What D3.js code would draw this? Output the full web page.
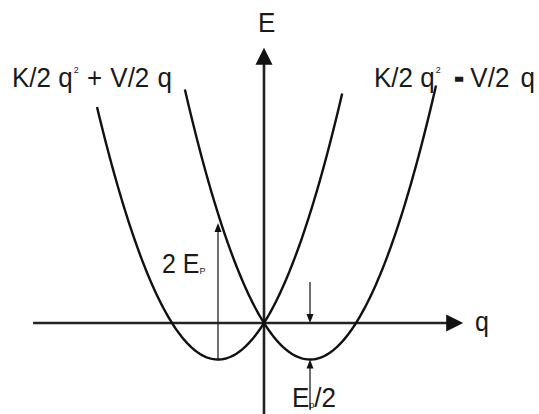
<!DOCTYPE html>
<html><head><meta charset="utf-8">
<script src="https://cdn.jsdelivr.net/npm/d3@7"></script>
<style>
body{margin:0;background:#fff}
svg{display:block}
text{font-family:"Liberation Sans",Arial,sans-serif;fill:#1a1a1a}
</style>
</head><body>
<svg id="c" width="539" height="414"></svg>
<script>
// E(q) = K/2 q^2 + s * V/2 q   (arbitrary units, minima at -Ep/2)
const K = 1, V = 2;
const signs = [1, -1];
const seriesLabels = ["+", "-"];
const qRanges = [[-3.63, 1.70], [-1.72, 3.74]];
const qAxisExtent = [-5.02, 4.33];
const eAxisExtent = [-1.25, 3.77];
// annotation arrows: q position, start E, end (tip) E
const arrowQ = [-1, 1, 1];
const arrowFrom = [-0.5, 0.56, -1.19];
const arrowTo = [1.37, 0, -0.5];

const svg = d3.select("#c");
const x = d3.scaleLinear().domain([0, 1]).range([264, 310]);
const y = d3.scaleLinear().domain([0, 1]).range([323, 250]);

function head(g, x1, y1, x2, y2, len, hw) {
  const dx = x2 - x1, dy = y2 - y1, L = Math.hypot(dx, dy);
  const ux = dx / L, uy = dy / L;
  const bx = x2 - ux * len, by = y2 - uy * len;
  g.append("path")
    .attr("d", `M${x2},${y2}L${bx - uy * hw},${by + ux * hw}L${bx + uy * hw},${by - ux * hw}Z`)
    .attr("fill", "#111");
}

// axes
const ax = svg.append("g");
ax.append("line")
  .attr("x1", x(qAxisExtent[0])).attr("x2", x(qAxisExtent[1]) - 10)
  .attr("y1", y(0)).attr("y2", y(0))
  .attr("stroke", "#222").attr("stroke-width", 2.6);
head(ax, x(qAxisExtent[0]), y(0), x(qAxisExtent[1]), y(0), 17, 8.5);
ax.append("line")
  .attr("x1", x(0)).attr("x2", x(0))
  .attr("y1", y(eAxisExtent[0])).attr("y2", y(eAxisExtent[1]) + 10)
  .attr("stroke", "#222").attr("stroke-width", 2.6);
head(ax, x(0), y(eAxisExtent[0]), x(0), y(eAxisExtent[1]), 17, 8.5);

// curves
const line = d3.line().x(d => x(d[0])).y(d => y(d[1]));
signs.forEach((s, i) => {
  const [a, b] = qRanges[i];
  const pts = d3.range(0, 201).map(k => {
    const q = a + (b - a) * k / 200;
    return [q, K / 2 * q * q + s * V / 2 * q];
  });
  svg.append("path").attr("d", line(pts))
    .attr("fill", "none").attr("stroke", "#111").attr("stroke-width", 2.4);
});

// annotation arrows
arrowQ.forEach((q, i) => {
  const x1 = x(q), y1 = y(arrowFrom[i]), y2 = y(arrowTo[i]);
  svg.append("line").attr("x1", x1).attr("x2", x1).attr("y1", y1)
    .attr("y2", y2 + (y2 < y1 ? 5 : -5))
    .attr("stroke", "#222").attr("stroke-width", 1.3);
  head(svg, x1, y1, x1, y2, 9, 3.5);
});

// labels (slightly tall type, as in the reference)
function label(xp, yp, size) {
  return svg.append("g").attr("transform", `translate(${xp},${yp}) scale(1,1.08)`)
    .append("text").attr("font-size", size);
}
label(258, 32, 26).text("E");
label(475, 331, 25).text("q");

function curveLabel(xp, sign) {
  const t = label(xp, 87, 26);
  t.append("tspan").text("K/2 q");
  t.append("tspan").attr("font-size", 9).attr("dx", 1).attr("dy", -13).text("2");
  if (sign === "+") {
    t.append("tspan").attr("dy", 13).attr("word-spacing", 1).text(" + V/2 q");
  } else {
    t.append("tspan").attr("dy", 13).attr("dx", 14).attr("font-weight", "bold")
      .attr("stroke", "#1a1a1a").attr("stroke-width", 1.6).text("-");
    t.append("tspan").attr("dx", 7).attr("word-spacing", 4).text("V/2 q");
  }
}
curveLabel(12, seriesLabels[0]);
curveLabel(374, seriesLabels[1]);

const l1 = label(162, 273, 25);
l1.append("tspan").text("2 E");
l1.append("tspan").attr("font-size", 9).attr("dy", 1).text("P");

const l2 = label(292, 407, 26);
l2.append("tspan").text("E");
l2.append("tspan").attr("font-size", 9).attr("dy", 1).text("p");
l2.append("tspan").attr("dy", -1).text("/2");
</script>
</body></html>
